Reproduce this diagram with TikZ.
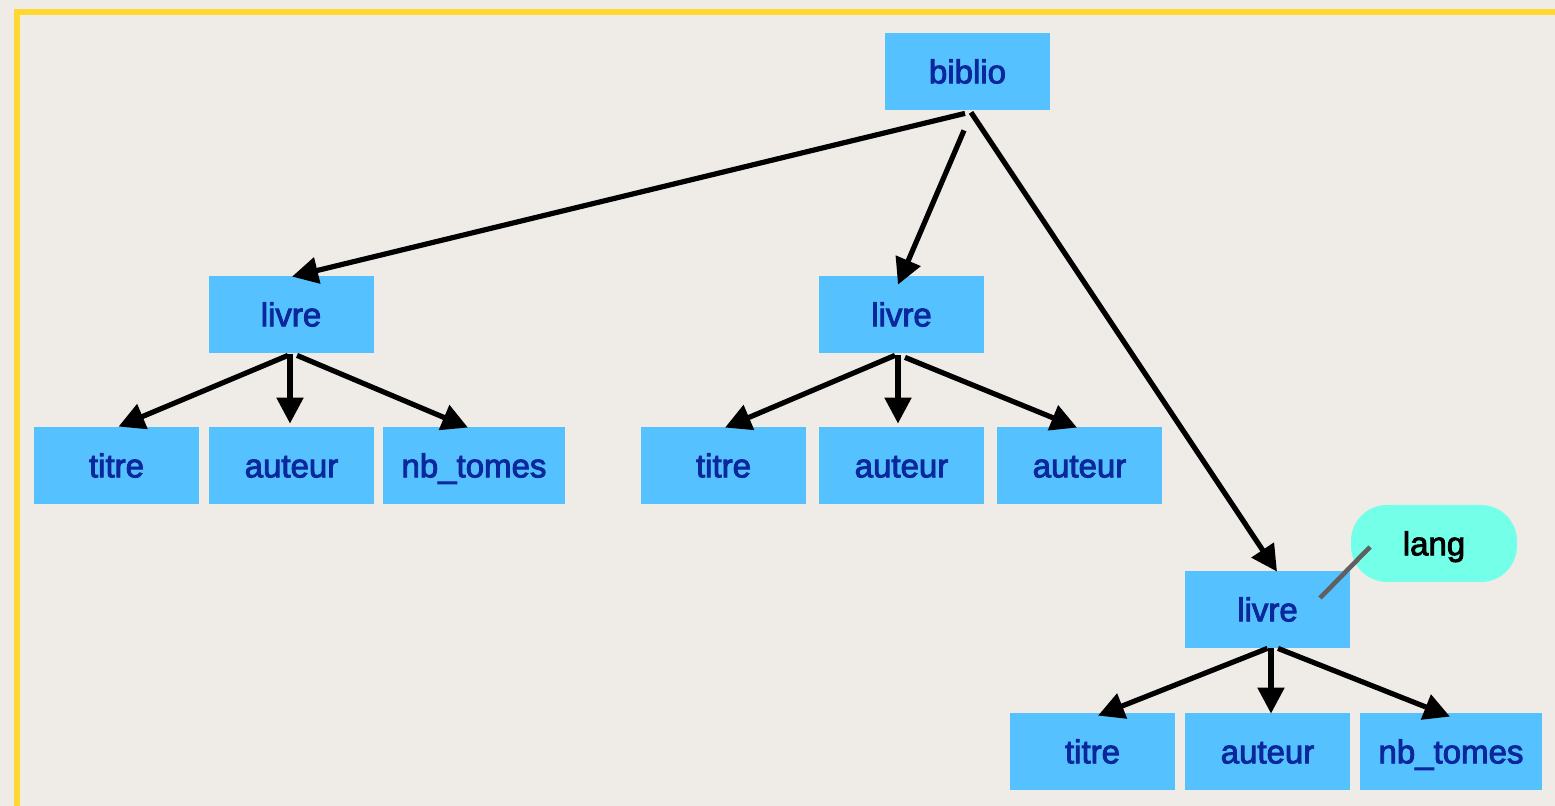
\documentclass[tikz,border=0pt]{standalone}
\usepackage{fontspec}
\newfontfamily\lblfont{Liberation Sans}
\newcommand\heavytext{\special{pdf:literal direct 2 Tr 0.45 w}}
\newcommand\plaintext{\special{pdf:literal direct 0 Tr 0.4 w}}
\usetikzlibrary{arrows.meta,calc}
\definecolor{bg}{HTML}{EFECE7}
\definecolor{frame}{HTML}{FFD932}
\definecolor{nodeblue}{HTML}{56C1FF}
\definecolor{txtblue}{HTML}{0A279C}
\definecolor{langfill}{HTML}{74FFE8}
\definecolor{attrline}{HTML}{606060}
\begin{document}
\begin{tikzpicture}[x=0.5pt,y=-0.5pt,
  box/.style={fill=nodeblue, text=txtblue, minimum width=82.5pt, minimum height=38.5pt,
    inner sep=0pt, text height=11.8pt, text depth=0pt,
    font=\lblfont\fontsize{16.5pt}{18pt}\selectfont,
    execute at begin node=\heavytext, execute at end node=\plaintext},
  widebox/.style={box, minimum width=91pt},
  pill/.style={box, fill=langfill, text=black, minimum width=83pt, rounded corners=18pt},
  arr/.style={line width=2.6pt, -{Triangle[length=13pt,width=13pt]}},
  attr/.style={line width=2.3pt, draw=attrline}]
\fill[bg] (0,0) rectangle (1555,806);
\useasboundingbox (0,0) rectangle (1555,806);
\begin{scope}
\clip (0,0) rectangle (1555,806);
\draw[frame, line width=3pt] (17,12) rectangle (1600,860);
\end{scope}

\node[box] (biblio) at (967.5,71.5) {biblio};
\node[box] (livre1) at (291,314.5) {livre};
\node[box] (livre2) at (901.5,314.5) {livre};
\node[box] (livre3) at (1267.5,609.5) {livre};

\node[box] (t1) at (116.5,465.5) {titre};
\node[box] (a1) at (291.5,465.5) {auteur};
\node[widebox] (n1) at (474,465.5) {nb\_tomes};
\node[box] (t2) at (723.5,465.5) {titre};
\node[box] (a2) at (901.5,465.5) {auteur};
\node[box] (a3) at (1079.5,465.5) {auteur};
\node[box] (t3) at (1092.5,751.5) {titre};
\node[box] (a4) at (1267.5,751.5) {auteur};
\node[widebox] (n2) at (1451,751.5) {nb\_tomes};

\node[pill] (lang) at (1434,543.5) {lang};

\draw[arr] ($(biblio.south)+(-2.5,3)$) -- ($(livre1.north)+(1,1)$);
\draw[arr] ($(biblio.south)+(-3.5,20)$) -- ($(livre2.north)+(-3.5,9)$);
\draw[arr] ($(biblio.south)+(3.5,2)$) -- ($(livre3.north)+(9.5,1)$);

\draw[arr] ($(livre1.south)+(-3,2)$) -- ($(t1.north)+(2,0)$);
\draw[arr] ($(livre1.south)+(-1,1)$) -- ($(a1.north)+(-1.5,-3)$);
\draw[arr] ($(livre1.south)+(6,2)$) -- ($(n1.north)+(-6,1)$);

\draw[arr] ($(livre2.south)+(-6.5,2)$) -- ($(t2.north)+(1.5,1)$);
\draw[arr] ($(livre2.south)+(-3.5,2)$) -- ($(a2.north)+(-3.5,-3)$);
\draw[arr] ($(livre2.south)+(3.5,4)$) -- ($(a3.north)+(-2.5,1)$);

\draw[arr] ($(livre3.south)+(0,0)$) -- ($(t3.north)+(5.5,3)$);
\draw[arr] ($(livre3.south)+(3.5,0)$) -- ($(a4.north)+(3.5,1)$);
\draw[arr] ($(livre3.south)+(10.5,0)$) -- ($(n2.north)+(-1,4)$);

\draw[attr] ($(livre3.center)+(52.5,-11.5)$) -- ($(lang.center)+(-64,3.5)$);
\end{tikzpicture}
\end{document}
